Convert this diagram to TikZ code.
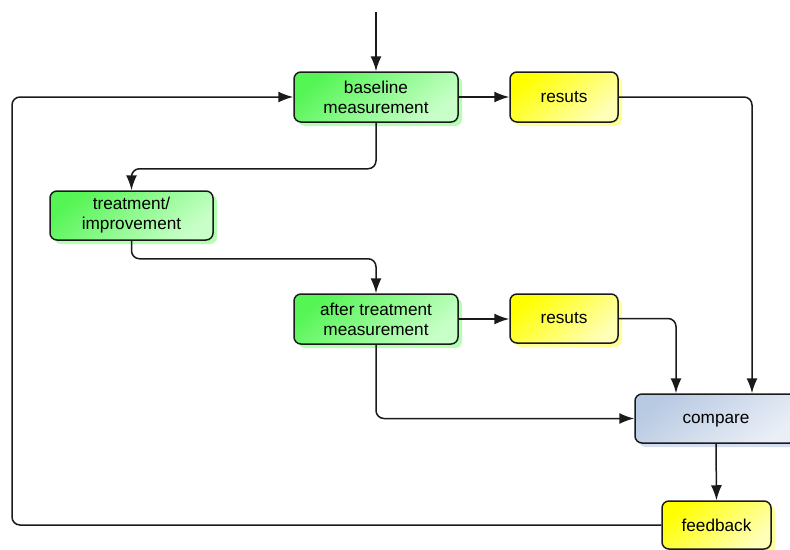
\documentclass[tikz,border=0pt]{standalone}
\usepackage{fontspec}
\setmainfont{Liberation Sans}
\usetikzlibrary{arrows.meta,shadows}

\definecolor{grnA}{HTML}{55F555}
\definecolor{grnB}{HTML}{C8FFC8}
\definecolor{grnS}{HTML}{B4FFB4}
\definecolor{ylwA}{HTML}{FFFF00}
\definecolor{ylwB}{HTML}{FFFFB8}
\definecolor{ylwS}{HTML}{FFFF99}
\definecolor{bluA}{HTML}{B8C9E2}
\definecolor{bluB}{HTML}{EAEFF7}
\definecolor{bluS}{HTML}{D4DEF0}
\definecolor{edge}{HTML}{1A1A1A}

\tikzset{
  box/.style={draw=edge, line width=1.5pt, rounded corners=7pt,
    minimum height=50pt, inner sep=0pt, align=center,
    font=\fontsize{17.2}{20}\selectfont},
  greenbox/.style={box, top color=grnA, bottom color=grnB, shading angle=40,
    general shadow={fill=grnS, shadow xshift=4pt, shadow yshift=-4pt}},
  yellowbox/.style={box, top color=ylwA, bottom color=ylwB, shading angle=40,
    general shadow={fill=ylwS, shadow xshift=4pt, shadow yshift=-4pt}},
  bluebox/.style={box, top color=bluA, bottom color=bluB, shading angle=35,
    general shadow={fill=bluS, shadow xshift=4pt, shadow yshift=-4pt}},
  link/.style={draw=edge, line width=1.5pt, rounded corners=8pt,
    -{Latex[length=15pt,width=11pt]}}
}

\begin{document}
\begin{tikzpicture}[x=1pt, y=-1pt]
  \useasboundingbox (0,0) rectangle (790,549);

  % process steps
  \node[greenbox, minimum width=164pt] (base) at (376,97) {baseline\\measurement};
  \node[yellowbox, minimum width=108pt] (res1) at (564,97) {resuts};
  \node[greenbox, minimum width=163pt, minimum height=49pt] (treat) at (131.5,215.5) {treatment/\\improvement};
  \node[greenbox, minimum width=164pt] (after) at (376,319) {after treatment\\measurement};
  \node[yellowbox, minimum width=108pt, minimum height=49pt] (res2) at (564,318.5) {resuts};
  \node[bluebox, minimum width=162pt, minimum height=49pt, text depth=0pt] (cmp) at (716,418.5) {compare};
  \node[yellowbox, minimum width=109pt, minimum height=48pt] (fb) at (716.5,525) {feedback};

  % entry and loop-back coordinates
  \coordinate (start) at (376,12);
  \coordinate (loop) at (12,97);

  % connectors
  \draw[link] (start) -- (base.north);
  \draw[link] (fb.west) -| (loop) -- (base.west);
  \draw[link] (base.east) -- (res1.west);
  \draw[link] (res1.east) -| ([xshift=36pt]cmp.north);
  \draw[link] (base.south) -- ++(0,46) -| (treat.north);
  \draw[link] (treat.south) -- ++(0,18) -| (after.north);
  \draw[link] (after.east) -- (after.east -| res2.west);
  \draw[link] (res2.east) -| ([xshift=-40pt]cmp.north);
  \draw[link] (after.south) |- (cmp.west);
  \draw[link] (cmp.south) -- (fb.north);
\end{tikzpicture}
\end{document}
